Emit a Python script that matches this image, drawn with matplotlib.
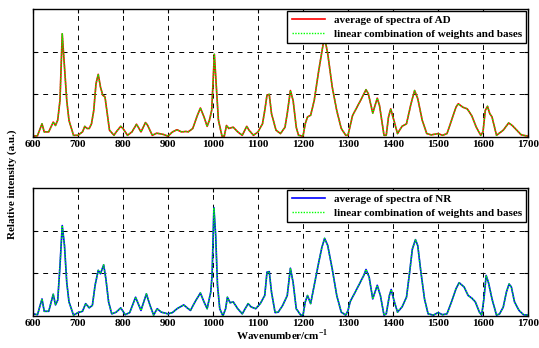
import matplotlib
matplotlib.use("Agg")
import matplotlib.pyplot as plt

plt.rcParams["font.family"] = ["Liberation Serif", "DejaVu Serif"]
plt.rcParams["font.weight"] = "bold"
plt.rcParams["mathtext.fontset"] = "custom"
plt.rcParams["mathtext.rm"] = "Liberation Serif:bold"

# AD spectrum (wavenumber, relative intensity in grid units)
ad_wn = [600, 610, 620, 625, 635, 645, 650, 655, 660, 665, 670, 675, 680, 690, 700,
         710, 715, 720, 725, 730, 735, 740, 745, 750, 755, 760, 765, 770, 780, 785,
         795, 800, 810, 820, 830, 840, 850, 855, 865, 875, 890, 900, 910, 920, 930,
         940, 945, 955, 965, 972, 980, 987, 992, 997, 1000, 1003, 1007, 1012, 1020, 1025,
         1030, 1035, 1045, 1055, 1065, 1075, 1080, 1090, 1100, 1110, 1115, 1120, 1125, 1130, 1140,
         1150, 1160, 1165, 1172, 1178, 1185, 1190, 1200, 1205, 1210, 1217, 1225, 1235, 1245, 1250,
         1255, 1265, 1275, 1285, 1295, 1300, 1310, 1320, 1330, 1340, 1345, 1355, 1365, 1370, 1380,
         1385, 1390, 1395, 1402, 1410, 1420, 1430, 1440, 1448, 1455, 1465, 1475, 1485, 1500, 1510,
         1520, 1530, 1540, 1545, 1555, 1565, 1575, 1585, 1595, 1600, 1605, 1610, 1615, 1620, 1630,
         1640, 1645, 1650, 1657, 1665, 1675, 1685, 1700]
ad_avg = [0.02, 0.03, 0.31, 0.12, 0.12, 0.35, 0.27, 0.40, 0.86, 2.42, 1.64, 0.86, 0.39, 0.04, 0.04,
          0.12, 0.25, 0.20, 0.20, 0.31, 0.62, 1.25, 1.47, 1.17, 0.98, 0.94, 0.55, 0.16, 0.04, 0.12,
          0.25, 0.20, 0.04, 0.12, 0.30, 0.12, 0.34, 0.27, 0.04, 0.09, 0.06, 0.02, 0.12, 0.17, 0.12,
          0.13, 0.12, 0.20, 0.50, 0.68, 0.47, 0.25, 0.39, 0.62, 1.25, 1.94, 1.25, 0.40, 0.02, 0.02,
          0.27, 0.20, 0.23, 0.12, 0.04, 0.25, 0.16, 0.04, 0.12, 0.31, 0.62, 0.98, 1.00, 0.55, 0.16,
          0.08, 0.23, 0.55, 1.09, 0.86, 0.23, 0.04, 0.02, 0.31, 0.47, 0.51, 0.86, 1.56, 2.19, 2.22,
          1.95, 1.17, 0.62, 0.20, 0.04, 0.04, 0.50, 0.70, 0.90, 1.11, 1.02, 0.56, 0.91, 0.74, 0.04,
          0.04, 0.47, 0.66, 0.39, 0.08, 0.25, 0.31, 0.78, 1.09, 0.90, 0.39, 0.08, 0.05, 0.08, 0.04,
          0.08, 0.39, 0.70, 0.78, 0.70, 0.66, 0.50, 0.23, 0.04, 0.12, 0.62, 0.72, 0.55, 0.47, 0.04,
          0.12, 0.16, 0.23, 0.33, 0.27, 0.16, 0.05, 0.02]
ad_fit = list(ad_avg)

# NR spectrum
nr_wn = [600, 610, 620, 625, 635, 645, 650, 655, 660, 665, 670, 675, 680, 690, 700,
         710, 717, 725, 732, 738, 745, 750, 757, 762, 768, 775, 785, 795, 805, 815,
         828, 840, 852, 860, 868, 876, 885, 900, 910, 920, 935, 945, 950, 960, 972,
         980, 987, 995, 998, 1002, 1006, 1010, 1015, 1022, 1028, 1032, 1038, 1045, 1055, 1065,
         1078, 1085, 1095, 1105, 1115, 1120, 1125, 1130, 1138, 1145, 1155, 1165, 1172, 1178, 1185,
         1195, 1200, 1205, 1210, 1217, 1225, 1235, 1242, 1248, 1255, 1265, 1275, 1285, 1295, 1300,
         1305, 1320, 1335, 1340, 1347, 1355, 1365, 1372, 1380, 1385, 1392, 1396, 1402, 1410, 1420,
         1430, 1437, 1443, 1450, 1455, 1462, 1470, 1478, 1490, 1500, 1510, 1520, 1530, 1540, 1547,
         1558, 1567, 1575, 1583, 1592, 1597, 1602, 1607, 1612, 1620, 1630, 1637, 1645, 1652, 1658,
         1663, 1670, 1680, 1690, 1700]
nr_avg = [0.05, 0.03, 0.40, 0.11, 0.11, 0.51, 0.26, 0.37, 1.18, 2.12, 1.65, 0.79, 0.33, 0.02, 0.08,
          0.11, 0.29, 0.19, 0.25, 0.72, 1.07, 0.99, 1.20, 0.87, 0.33, 0.05, 0.09, 0.19, 0.03, 0.08,
          0.44, 0.13, 0.52, 0.25, 0.02, 0.17, 0.09, 0.05, 0.08, 0.17, 0.26, 0.17, 0.13, 0.33, 0.54,
          0.33, 0.17, 0.56, 0.95, 2.54, 1.88, 0.72, 0.17, 0.00, 0.17, 0.44, 0.31, 0.33, 0.17, 0.05,
          0.29, 0.21, 0.17, 0.29, 0.48, 1.03, 1.04, 0.56, 0.08, 0.09, 0.25, 0.48, 1.12, 0.79, 0.17,
          0.02, 0.02, 0.33, 0.48, 0.29, 0.72, 1.26, 1.61, 1.82, 1.65, 1.10, 0.48, 0.09, 0.02, 0.13,
          0.34, 0.64, 0.95, 1.09, 0.91, 0.40, 0.72, 0.48, 0.02, 0.05, 0.48, 0.62, 0.37, 0.09, 0.21,
          0.44, 1.03, 1.57, 1.79, 1.65, 1.03, 0.40, 0.05, 0.02, 0.08, 0.03, 0.05, 0.33, 0.64, 0.78,
          0.68, 0.48, 0.42, 0.33, 0.09, 0.02, 0.40, 0.95, 0.79, 0.40, 0.02, 0.05, 0.21, 0.56, 0.75,
          0.68, 0.33, 0.13, 0.03, 0.02]
nr_fit = list(nr_avg)

xticks = [600, 700, 800, 900, 1000, 1100, 1200, 1300, 1400, 1500, 1600, 1700]
fs = 8

fig = plt.figure(figsize=(5.39, 3.48), dpi=100)
ax1 = fig.add_axes([0.0612, 0.6063, 0.9184, 0.3677])
ax2 = fig.add_axes([0.0612, 0.0920, 0.9184, 0.3677])

panels = [
    (ax1, ad_wn, ad_avg, ad_fit, "#ff0000", "average of spectra of AD"),
    (ax2, nr_wn, nr_avg, nr_fit, "#0000ff", "average of spectra of NR"),
]
for ax, wn, avg, fit, col, lab in panels:
    ax.plot(wn, avg, color=col, lw=1.2, label=lab)
    ax.plot(wn, fit, color="#00ff00", lw=1.0, ls=(0, (1, 1)),
            label="linear combination of weights and bases")
    ax.set_xlim(600, 1700)
    ax.set_ylim(0, 3)
    ax.set_xticks(xticks)
    ax.set_yticks([1, 2])
    ax.set_yticklabels([])
    ax.tick_params(direction="in", top=True, right=True, labelsize=fs, length=3, pad=2)
    for t in ax.get_xticklabels():
        t.set_fontweight("bold")
    ax.grid(True, color="black", ls=(0, (5, 5)), lw=0.7)
    for s in ax.spines.values():
        s.set_linewidth(1.0)
    leg = ax.legend(loc="upper right", fontsize=fs, frameon=True, fancybox=False,
                    edgecolor="black", framealpha=1, borderaxespad=0.15,
                    handlelength=3.0, labelspacing=0.35, borderpad=0.4)
    leg.get_frame().set_linewidth(1.0)
    for t in leg.get_texts():
        t.set_fontweight("bold")

fig.text(0.022, 0.47, "Relative intensity (a.u.)", rotation=90, ha="center", va="center",
         fontsize=fs, fontweight="bold")
fig.text(0.523, 0.015, r"Wavenumber/cm$^{-1}$", ha="center", va="bottom",
         fontsize=fs, fontweight="bold")

fig.savefig("out.png", dpi=100)
